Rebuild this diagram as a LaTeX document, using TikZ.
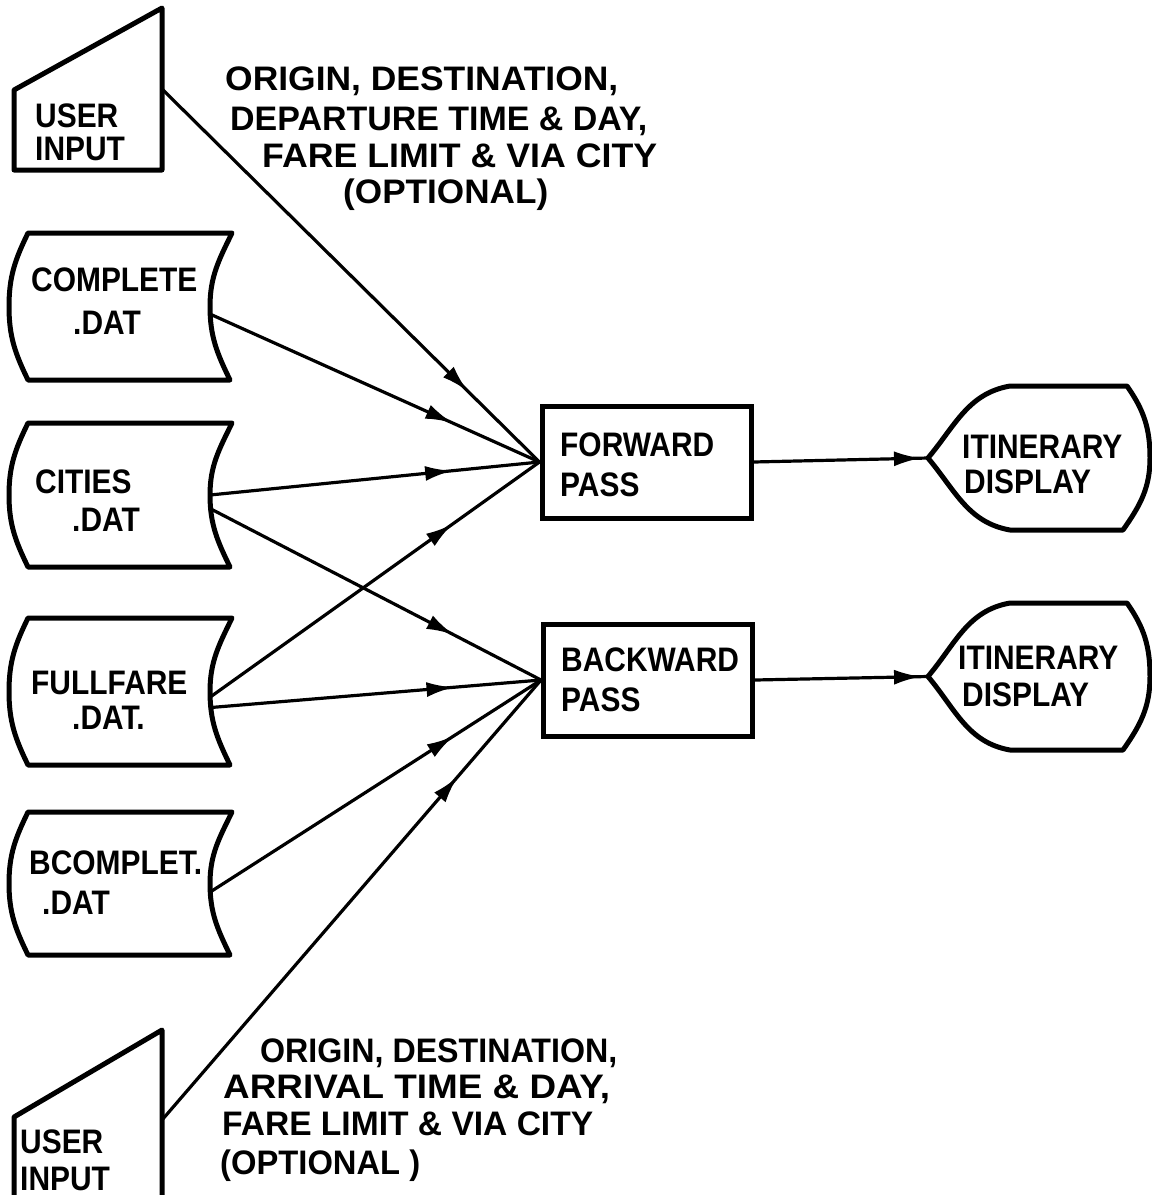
\documentclass[tikz,border=0pt]{standalone}
\usepackage{fontspec}
\usepackage{graphicx}
\newfontfamily\labfont[FakeStretch=0.88]{Liberation Sans}
\usetikzlibrary{arrows.meta,decorations.markings,calc}
\newcommand\fitto[2]{\resizebox{#1}{\height}{#2}}
\begin{document}
\begin{tikzpicture}[x=1pt,y=-1pt,
  outl/.style={line width=5pt, line join=round, line cap=round},
  procbox/.style={draw, line width=5pt, minimum width=209pt, minimum height=112pt, inner sep=0pt},
  ghost/.style={inner sep=0pt, outer sep=0pt},
  datastore/.style={ghost, minimum width=201pt, minimum height=#1},
  txt/.style={font=\labfont\bfseries\fontsize{34}{38}\selectfont, inner sep=0pt, anchor=base west},
  conn/.style={line width=3.2pt, postaction={decorate},
    decoration={markings, mark=at position #1 with {\arrow{Latex[length=27pt,width=15pt]}}}},
]
\useasboundingbox (0,0) rectangle (1152,1195);

% ---------- user inputs ----------
\node[ghost, minimum width=148pt, minimum height=162pt] (UI1) at (88,89) {};
\draw[outl] (UI1.south west) -- (UI1.south east) -- (UI1.north east) -- ($(UI1.north west)+(0,82)$) -- cycle;
\node[txt] (ui1a) at (35,127) {USER};
\node[txt] (ui1b) at (35,160) {INPUT};

\node[ghost, minimum width=148pt, minimum height=180pt] (UI2) at (88,1120) {};
\draw[outl] (UI2.south west) -- (UI2.south east) -- (UI2.north east) -- ($(UI2.north west)+(0,87)$) -- cycle;
\node[txt] (ui2a) at (20,1153) {USER};
\node[txt] (ui2b) at (20,1190) {INPUT};

% ---------- data stores ----------
\foreach \n/\cy/\h in {D1/306.5/147pt, D2/495/144pt, D3/691.5/147pt, D4/883.5/143pt}{
  \node[datastore=\h] (\n) at (109.5,\cy) {};
  \draw[outl] ($(\n.north west)+(19,0)$) -- ($(\n.north east)+(22,0)$)
     to[out=-116,in=90] (\n.east) to[out=-90,in=116] ($(\n.south east)+(20,0)$)
     -- ($(\n.south west)+(19,0)$) to[out=116,in=-90] (\n.west)
     to[out=90,in=-116] ($(\n.north west)+(19,0)$) -- cycle;
}
\node[txt] (d1a) at (31,291) {COMPLETE};
\node[txt] (d1b) at (73,334) {.DAT};
\node[txt] (d2a) at (35,493) {CITIES};
\node[txt] (d2b) at (72,531) {.DAT};
\node[txt] (d3a) at (31,694) {FULLFARE};
\node[txt] (d3b) at (72,729) {.DAT.};
\node[txt] (d4a) at (29,874) {BCOMPLET.};
\node[txt] (d4b) at (42,914) {.DAT};

% ---------- processes ----------
\node[procbox] (F) at (646.5,462) {};
\node[txt] (fa) at (560,456) {FORWARD};
\node[txt] (fb) at (560,496) {PASS};
\node[procbox] (B) at (648,680) {};
\node[txt] (ba) at (561,671) {BACKWARD};
\node[txt] (bb) at (561,711) {PASS};

% ---------- displays ----------
\foreach \n/\cy/\h in {I1/458/144pt, I2/676.5/147pt}{
  \node[ghost, minimum width=222pt, minimum height=\h] (\n) at (1039,\cy) {};
  \draw[outl] (\n.west) to[out=50,in=190] ($(\n.north west)+(82,0)$)
     -- ($(\n.north east)+(-23,0)$) to[out=-55,in=90] (\n.east)
     to[out=-90,in=55] ($(\n.south east)+(-27,0)$)
     -- ($(\n.south west)+(82,0)$) to[out=170,in=-50] (\n.west) -- cycle;
}
\node[txt] (i1a) at (962,458) {ITINERARY};
\node[txt] (i1b) at (964,493) {DISPLAY};
\node[txt] (i2a) at (958,669) {ITINERARY};
\node[txt] (i2b) at (962,706) {DISPLAY};

% ---------- connectors ----------
\draw[conn=0.81] (UI1.east) -- (F.west);
\draw[conn=0.735] ($(D1.east)+(1,8)$) -- (F.west);
\draw[conn=0.735] (D2.east) -- (F.west);
\draw[conn=0.735] ($(D3.east)+(1,5)$) -- (F.west);
\draw[conn=0.735] ($(D2.east)+(1,14)$) -- (B.west);
\draw[conn=0.735] ($(D3.east)+(1,16)$) -- (B.west);
\draw[conn=0.735] ($(D4.east)+(1,8)$) -- (B.west);
\draw[conn=0.78] (UI2.east) -- (B.west);
\draw[conn=0.96] (F.east) -- (I1.west);
\draw[conn=0.96] (B.east) -- (I2.west);

% ---------- labels ----------
\node[txt] (t1) at (225,90) {\fitto{393pt}{ORIGIN, DESTINATION,}};
\node[txt] (t2) at (230,130) {\fitto{417pt}{DEPARTURE TIME \& DAY,}};
\node[txt] (t3) at (262,167) {\fitto{395pt}{FARE LIMIT \& VIA CITY}};
\node[txt] (t4) at (343,203) {\fitto{205pt}{(OPTIONAL)}};
\node[txt] (b1) at (260,1062) {\fitto{357pt}{ORIGIN, DESTINATION,}};
\node[txt] (b2) at (223,1098) {\fitto{387pt}{ARRIVAL TIME \& DAY,}};
\node[txt] (b3) at (222,1135) {\fitto{371pt}{FARE LIMIT \& VIA CITY}};
\node[txt] (b4) at (220,1174) {\fitto{200pt}{(OPTIONAL )}};
\end{tikzpicture}
\end{document}
